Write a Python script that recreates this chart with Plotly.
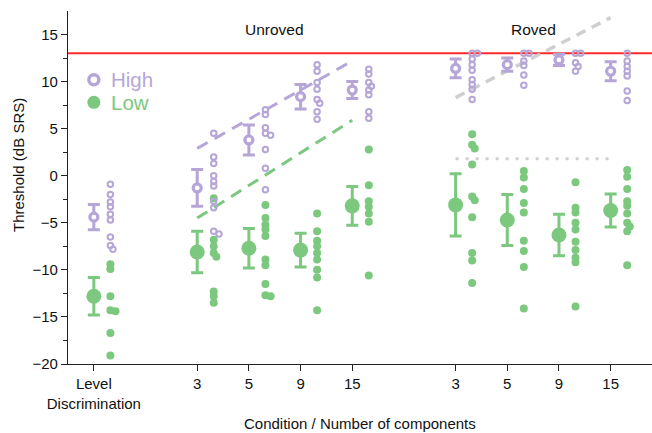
import plotly.graph_objects as go

# ---------------- data ----------------
tick_labels = ["Level<br>Discrimination", "3", "5", "9", "15", "3", "5", "9", "15"]
group_names = ["Unroved", "Roved"]

high_mean = [-4.4, -1.3, 3.8, 8.4, 9.1, 11.4, 11.8, 12.3, 11.1]
high_err = [1.35, 1.95, 1.6, 1.3, 0.9, 1.0, 0.7, 0.6, 1.0]
low_mean = [-12.8, -8.1, -7.7, -7.9, -3.2, -3.1, -4.7, -6.3, -3.7]
low_err = [2.0, 2.2, 2.1, 1.8, 2.05, 3.3, 2.7, 2.2, 1.75]

high_points = [
    [-0.9, -2.0, -2.8, -3.3, -4.1, -4.7, -6.5, -7.4, -7.8],
    [4.5, 2.0, 1.3, 0.0, -0.6, -1.1, -2.7, -3.4, -5.9, -6.2],
    [7.0, 6.5, 5.1, 4.5, 4.3, 2.8, 0.8, -1.5],
    [11.8, 11.1, 9.9, 9.2, 8.1, 7.7, 6.8, 6.0],
    [11.3, 10.8, 9.9, 9.5, 9.1, 8.6, 6.8, 6.1],
    [13.0, 13.0, 12.4, 11.8, 11.2, 10.2, 9.7, 9.2, 8.1],
    [13.0, 13.0, 12.2, 11.7, 10.7, 9.6],
    [13.0, 13.0, 12.0, 11.6, 11.1],
    [13.0, 12.2, 11.6, 11.1, 10.6, 9.0, 8.0],
]
low_points = [
    [-9.4, -9.9, -12.8, -14.3, -14.4, -16.7, -19.1],
    [-2.4, -6.8, -7.5, -8.2, -8.6, -12.3, -12.8, -13.5],
    [-3.1, -4.5, -5.2, -5.7, -6.4, -8.9, -9.5, -11.5, -12.7, -12.8],
    [-4.0, -5.9, -6.9, -7.5, -8.2, -8.9, -10.0, -10.8, -14.3],
    [2.8, -1.0, -2.7, -3.3, -4.0, -4.9, -10.6],
    [4.4, 3.3, 2.9, 1.2, -2.2, -2.6, -4.4, -8.2, -9.0, -11.4],
    [0.5, -0.2, -1.4, -2.9, -3.9, -6.9, -8.0, -9.7, -14.1],
    [-0.7, -3.4, -3.9, -5.0, -5.7, -7.0, -7.9, -8.7, -9.2, -13.9],
    [0.6, -0.1, -1.4, -2.7, -3.2, -4.0, -5.0, -5.4, -5.9, -9.5],
]

# prediction lines (first / last component condition)
unroved_high_pred = [2.9, 12.2]
unroved_low_pred = [-4.5, 5.9]
roved_high_pred = [8.3, 16.8]
roved_flat_pred = [1.8, 1.8]
ceiling = 13.0

# ---------------- layout helpers ----------------
# positions: LD at 0, then a gap, unroved 4 conditions, gap, roved 4 conditions
pos = [0]
p = 2
for g in range(2):
    for k in range(4):
        pos.append(p)
        p += 1
    p += 1
unroved_span = [pos[1], pos[4]]
roved_span = [pos[5], pos[8]]

PURPLE = "#b6a6d8"
GREEN = "#7cc87e"
GRAY = "#cfcfcf"
FONT = "Liberation Sans, Arial, sans-serif"

X_RANGE = [-0.5, 10.8]
Y_RANGE = [-20, 17.5]
W, H = 652, 433
ML, MR, MT, MB = 68, 0, 11, 69
XPX = (W - ML - MR) / (X_RANGE[1] - X_RANGE[0])
YPX = (H - MT - MB) / (Y_RANGE[1] - Y_RANGE[0])


def swarm(vals, base, step=0.05, min_px=4.5):
    placed = []
    xs = []
    offs = [0, step, -step, 2 * step, -2 * step, 3 * step, -3 * step]
    for v in vals:
        chosen = offs[-1]
        for off in offs:
            ok = all(((base + off - px) * XPX) ** 2 + ((v - py) * YPX) ** 2 >= min_px ** 2
                     for px, py in placed)
            if ok:
                chosen = off
                break
        placed.append((base + chosen, v))
        xs.append(base + chosen)
    return xs


fig = go.Figure()

# ceiling line
fig.add_shape(type="line", xref="paper", x0=0, x1=1, yref="y", y0=ceiling, y1=ceiling,
              line=dict(color="#ff2a2a", width=2), layer="below")

# prediction lines
fig.add_trace(go.Scatter(x=unroved_span, y=unroved_high_pred, mode="lines",
                         line=dict(color=PURPLE, width=3, dash="12px,8px"), hoverinfo="skip"))
fig.add_trace(go.Scatter(x=unroved_span, y=unroved_low_pred, mode="lines",
                         line=dict(color=GREEN, width=3, dash="12px,8px"), hoverinfo="skip"))
fig.add_trace(go.Scatter(x=roved_span, y=roved_high_pred, mode="lines",
                         line=dict(color=GRAY, width=3.5, dash="10px,7px"), hoverinfo="skip"))
fig.add_trace(go.Scatter(x=roved_span, y=roved_flat_pred, mode="lines",
                         line=dict(color=GRAY, width=3, dash="3px,7px"), hoverinfo="skip"))

# individual points
hx, hy, lx, ly = [], [], [], []
for i, x0 in enumerate(pos):
    hx += swarm(high_points[i], x0 + 0.32)
    hy += high_points[i]
    lx += swarm(low_points[i], x0 + 0.32)
    ly += low_points[i]

fig.add_trace(go.Scatter(x=lx, y=ly, mode="markers",
                         marker=dict(color=GREEN, size=8, line=dict(width=0))))
fig.add_trace(go.Scatter(x=hx, y=hy, mode="markers",
                         marker=dict(symbol="circle-open", color=PURPLE, size=5.5,
                                     line=dict(color=PURPLE, width=2))))

# means with error bars
fig.add_trace(go.Scatter(x=pos, y=low_mean, mode="markers",
                         error_y=dict(type="data", array=low_err, color=GREEN, thickness=3, width=6),
                         marker=dict(color=GREEN, size=15, line=dict(width=0))))
fig.add_trace(go.Scatter(x=pos, y=high_mean, mode="markers",
                         error_y=dict(type="data", array=high_err, color=PURPLE, thickness=3, width=6),
                         marker=dict(symbol="circle", color="white", size=8,
                                     line=dict(color=PURPLE, width=3.2))))

# legend (drawn manually)
legend_items = [("High", PURPLE, 10.2, "white", 3.5), ("Low", GREEN, 7.8, GREEN, 0)]
for name, col, yv, fillc, lw in legend_items:
    r = 6.5 if lw == 0 else 5
    fig.add_shape(type="circle", xref="x", yref="y", xsizemode="pixel", ysizemode="pixel",
                  xanchor=0, yanchor=yv, x0=-r, x1=r, y0=-r, y1=r,
                  fillcolor=fillc, line=dict(color=col, width=lw if lw else 0))
    fig.add_annotation(x=0.32, y=yv, xref="x", yref="y", text=name, showarrow=False,
                       xanchor="left", yanchor="middle", borderpad=0,
                       font=dict(family=FONT, size=20.5, color=col))

# group titles
for name, span in zip(group_names, [unroved_span, roved_span]):
    fig.add_annotation(x=(span[0] + span[1]) / 2, y=15.5, xref="x", yref="y", text=name,
                       showarrow=False, font=dict(family=FONT, size=15.5, color="#111"))

# axis titles
fig.add_annotation(x=0.5, y=(H - MB - 424) / (H - MT - MB),
                   xref="paper", yref="paper", text="Condition / Number of components",
                   showarrow=False, xanchor="center", yanchor="middle",
                   font=dict(family=FONT, size=15, color="#111"))
fig.add_annotation(x=(18 - ML) / (W - ML - MR), y=(H - MB - 165) / (H - MT - MB),
                   xref="paper", yref="paper", text="Threshold (dB SRS)", textangle=-90,
                   showarrow=False, xanchor="center", yanchor="middle",
                   font=dict(family=FONT, size=15, color="#111"))

fig.update_layout(
    width=W, height=H, margin=dict(l=ML, r=MR, t=MT, b=MB),
    plot_bgcolor="white", paper_bgcolor="white", showlegend=False,
    font=dict(family=FONT, size=15, color="#111"),
    xaxis=dict(range=X_RANGE, tickvals=pos, ticktext=tick_labels, showline=True,
               linecolor="#222", linewidth=1.3, ticks="outside", ticklen=6, tickwidth=1.3,
               tickcolor="#222", showgrid=False, zeroline=False,
               tickfont=dict(family=FONT, size=15, color="#111")),
    yaxis=dict(range=Y_RANGE, tickvals=[-20, -15, -10, -5, 0, 5, 10, 15],
               ticktext=["\u221220", "\u221215", "\u221210", "\u22125", "0", "5", "10", "15"],
               showline=True, linecolor="#222", linewidth=1.3, ticks="outside", ticklen=6,
               tickwidth=1.3, tickcolor="#222", showgrid=False, zeroline=False,
               minor=dict(tickvals=[-17.5, -12.5, -7.5, -2.5, 2.5, 7.5, 12.5], ticks="outside",
                          ticklen=4, tickwidth=1.3, tickcolor="#222"),
               tickfont=dict(family=FONT, size=15, color="#111")),
)

fig.write_html("out.html")
